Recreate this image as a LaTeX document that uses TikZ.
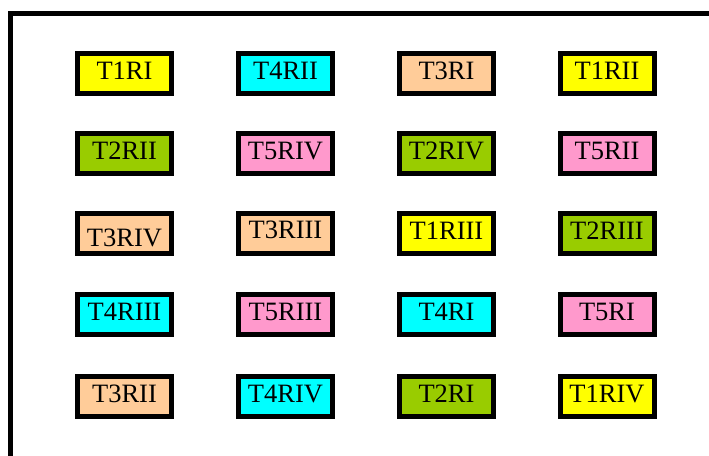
\documentclass[tikz,border=0pt]{standalone}
\usepackage{fontspec}
\setmainfont{Liberation Serif}
\definecolor{cyel}{HTML}{FFFF00}
\definecolor{ccyan}{HTML}{00FFFF}
\definecolor{cpeach}{HTML}{FFCC99}
\definecolor{cgreen}{HTML}{99CC00}
\definecolor{cpink}{HTML}{FF99CC}
\tikzset{
  tag/.style={draw=black, line width=5pt, minimum width=94pt, minimum height=40pt,
    inner sep=0pt, font=\fontsize{26.5}{30}\selectfont, text=black,
    text height=17.5pt, text depth=5pt},
  lowtext/.style={text height=25pt, text depth=0pt},
  hightext/.style={text height=17.5pt, text depth=7pt}
}
\begin{document}
\begin{tikzpicture}[x=1pt,y=-1pt]
\useasboundingbox (0,0) rectangle (709,455);
% frame along the top and left
\draw[line width=5pt, line join=miter] (10.5,460) -- (10.5,13.5) -- (715,13.5);
% grid of tags
\def\ca{124.5}\def\cb{285.5}\def\cc{446.5}\def\cd{607}
\def\ra{73.5}\def\rb{153.5}\def\rc{233.5}\def\rd{314}\def\re{396}
\node[tag, fill=cyel]   (t1ri)   at (\ca,\ra) {T1RI};
\node[tag, fill=ccyan]  (t4rii)  at (\cb,\ra) {T4RII};
\node[tag, fill=cpeach] (t3ri)   at (\cc,\ra) {T3RI};
\node[tag, fill=cyel]   (t1rii)  at (\cd,\ra) {T1RII};
\node[tag, fill=cgreen] (t2rii)  at (\ca,\rb) {T2RII};
\node[tag, fill=cpink]  (t5riv)  at (\cb,\rb) {T5RIV};
\node[tag, fill=cgreen] (t2riv)  at (\cc,\rb) {T2RIV};
\node[tag, fill=cpink]  (t5rii)  at (\cd,\rb) {T5RII};
\node[tag, lowtext, fill=cpeach]  (t3riv)  at (\ca,\rc) {T3RIV};
\node[tag, hightext, fill=cpeach] (t3riii) at (\cb,\rc) {T3RIII};
\node[tag, fill=cyel]   (t1riii) at (\cc,\rc) {T1RIII};
\node[tag, fill=cgreen] (t2riii) at (\cd,\rc) {T2RIII};
\node[tag, fill=ccyan]  (t4riii) at (\ca,\rd) {T4RIII};
\node[tag, fill=cpink]  (t5riii) at (\cb,\rd) {T5RIII};
\node[tag, fill=ccyan]  (t4ri)   at (\cc,\rd) {T4RI};
\node[tag, fill=cpink]  (t5ri)   at (\cd,\rd) {T5RI};
\node[tag, fill=cpeach] (t3rii)  at (\ca,\re) {T3RII};
\node[tag, fill=ccyan]  (t4riv)  at (\cb,\re) {T4RIV};
\node[tag, fill=cgreen] (t2ri)   at (\cc,\re) {T2RI};
\node[tag, fill=cyel]   (t1riv)  at (\cd,\re) {T1RIV};
\end{tikzpicture}
\end{document}
